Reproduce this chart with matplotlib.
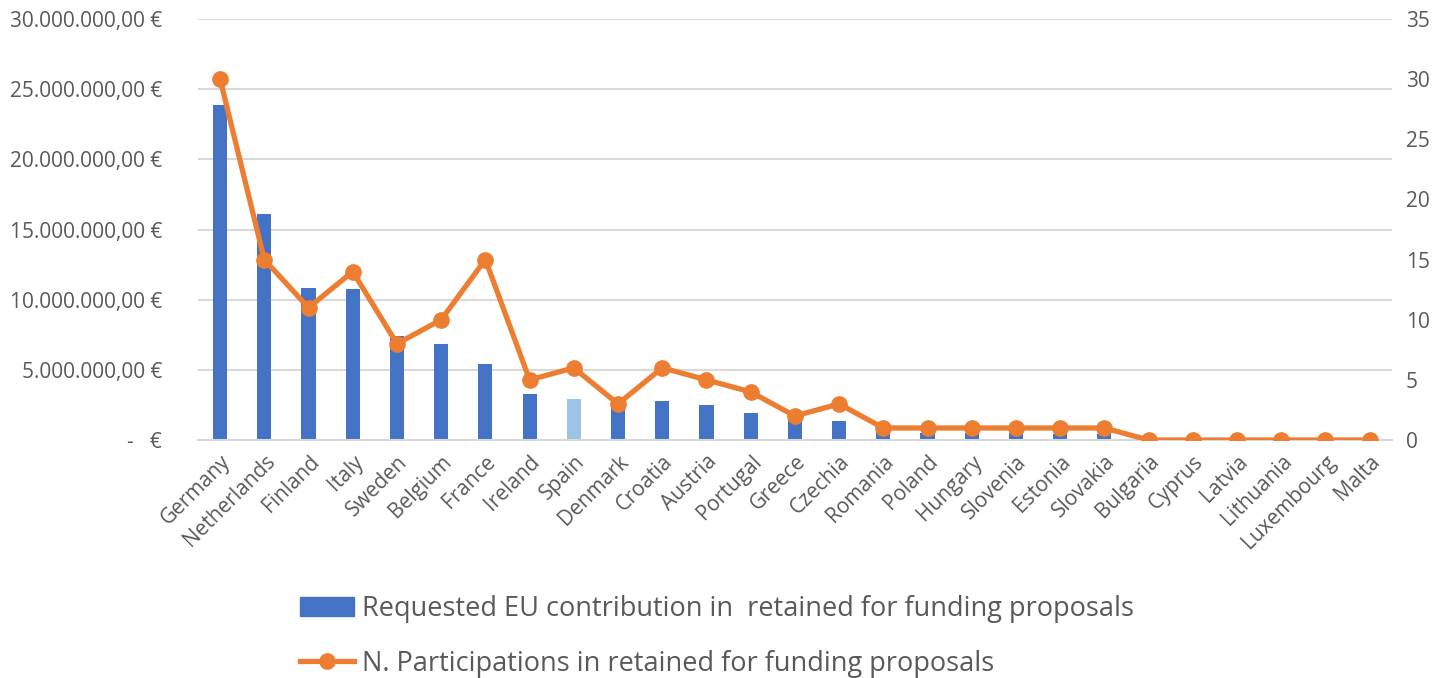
import numpy as np
import matplotlib
matplotlib.use("Agg")
import matplotlib.pyplot as plt
from matplotlib.ticker import FuncFormatter
from matplotlib.patches import Patch

plt.rcParams['font.family'] = ['Open Sans', 'DejaVu Sans']

countries = ["Germany", "Netherlands", "Finland", "Italy", "Sweden", "Belgium", "France",
             "Ireland", "Spain", "Denmark", "Croatia", "Austria", "Portugal", "Greece",
             "Czechia", "Romania", "Poland", "Hungary", "Slovenia", "Estonia", "Slovakia",
             "Bulgaria", "Cyprus", "Latvia", "Lithuania", "Luxembourg", "Malta"]
contribution = [23.87e6, 16.08e6, 10.83e6, 10.74e6, 7.41e6, 6.84e6, 5.42e6,
                3.26e6, 2.92e6, 2.6e6, 2.8e6, 2.49e6, 1.95e6, 1.6e6,
                1.38e6, 0.55e6, 0.5e6, 0.48e6, 0.47e6, 0.42e6, 0.4e6,
                0, 0, 0, 0, 0, 0]
participations = [30, 15, 11, 14, 8, 10, 15, 5, 6, 3, 6, 5, 4, 2, 3,
                  1, 1, 1, 1, 1, 1, 0, 0, 0, 0, 0, 0]

label_bar = "Requested EU contribution in  retained for funding proposals"
label_line = "N. Participations in retained for funding proposals"

blue = "#4472C4"
light_blue = "#9DC3E6"
orange = "#ED7D31"
grey = "#595959"
grid_c = "#D9D9D9"

fig = plt.figure(figsize=(14.4, 6.78), dpi=100)
ax = fig.add_axes([0.1375, 0.351, 0.829, 0.621])
ax2 = ax.twinx()

x = np.arange(len(countries))
colors = [blue] * len(countries)
colors[countries.index("Spain")] = light_blue
ax.bar(x, contribution, width=0.32, color=colors, zorder=2, label=label_bar)
line, = ax2.plot(x, participations, color=orange, lw=3.8, marker="o", markersize=11,
                 zorder=3, label=label_line)

ax.set_ylim(0, 30e6)
ax.set_yticks(np.arange(0, 30e6 + 1, 5e6))
ax2.set_ylim(0, 35)
ax2.set_yticks(np.arange(0, 36, 5))
ax.set_xlim(-0.5, len(countries) - 0.5)


def euro(v, pos):
    if v == 0:
        return "-   €"
    s = f"{v:,.2f}"
    s = s.replace(",", "X").replace(".", ",").replace("X", ".")
    return s + " €"


ax.yaxis.set_major_formatter(FuncFormatter(euro))
ax.grid(axis="y", color=grid_c, lw=1.5, zorder=0)
ax.set_axisbelow(True)

for a in (ax, ax2):
    for s in a.spines.values():
        s.set_visible(False)
    a.tick_params(length=0, labelsize=15, colors=grey)
ax.spines["bottom"].set_visible(True)
ax.spines["bottom"].set_color(grid_c)
ax.spines["bottom"].set_linewidth(1.5)
ax.tick_params(axis="y", pad=26)
ax2.tick_params(axis="y", pad=10)

ax.set_xticks(x)
ax.set_xticklabels(countries, rotation=45, ha="right", rotation_mode="anchor", fontsize=15)
ax.tick_params(axis="x", pad=8)

ax2.set_zorder(ax.get_zorder() + 1)
ax2.patch.set_visible(False)

fig.legend([Patch(color=blue), line], [label_bar, label_line],
           loc="upper left", bbox_to_anchor=(0.197, 0.146), frameon=False,
           fontsize=19.5, handlelength=2.0, handletextpad=0.3, labelspacing=0.98,
           labelcolor=grey, borderaxespad=0.2)

fig.savefig("out.png", dpi=100)
